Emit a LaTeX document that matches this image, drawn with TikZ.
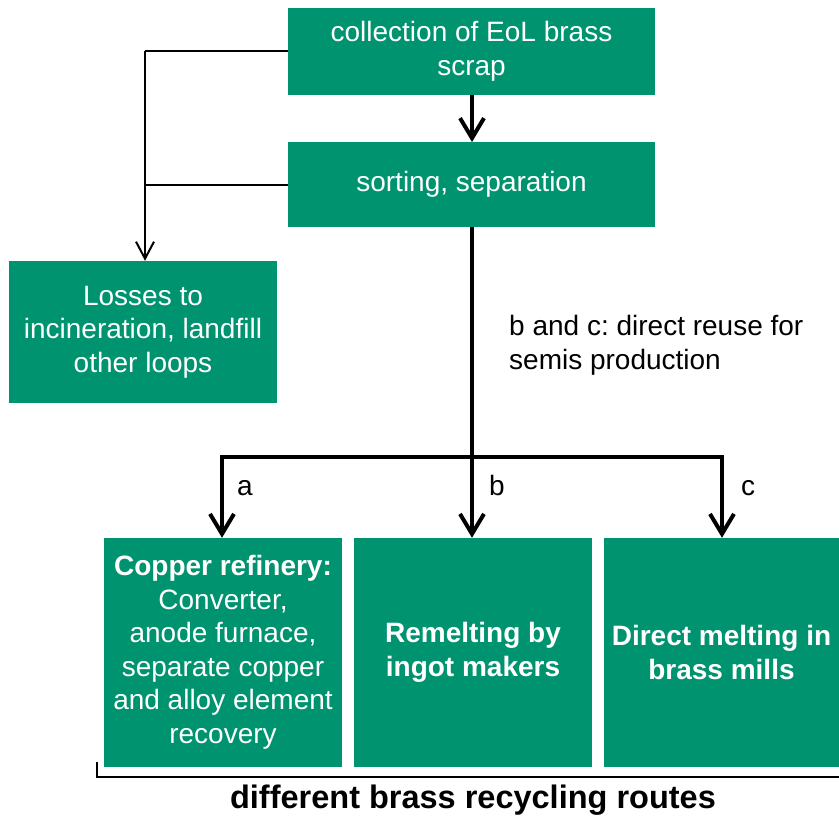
\documentclass[tikz,border=0pt]{standalone}
\usepackage{fontspec}
\setmainfont{Liberation Sans}
\usetikzlibrary{arrows.meta}
\definecolor{boxgreen}{RGB}{0,147,111}
\frenchspacing
\begin{document}
\begin{tikzpicture}[x=1pt,y=-1pt,
  box/.style={fill=boxgreen, text=white, inner sep=0pt, align=center,
    font=\fontsize{28}{33.5}\selectfont},
  lbl/.style={inner sep=0pt, font=\fontsize{28}{34}\selectfont},
  thickarrow/.style={line width=4pt, -{Straight Barb[length=20pt,width=24pt]}},
  thickline/.style={line width=4pt},
  thinarrow/.style={line width=2pt, -{Straight Barb[length=17pt,width=18pt]}},
  thinline/.style={line width=2pt}]
\useasboundingbox (0,0) rectangle (839,817);
\node[box, minimum width=367pt, minimum height=87pt] (collect) at (471.5,51.5)
  {collection of EoL brass\\scrap};
\node[box, minimum width=367pt, minimum height=85pt] (sort) at (471.5,184.5)
  {sorting, separation};
\node[box, minimum width=268pt, minimum height=142pt] (loss) at (143,332)
  {Losses to\\incineration, landfill\\other loops};
\node[box, minimum width=238pt, minimum height=229pt] (ra) at (223,652.5)
  {\textbf{Copper refinery:}\\Converter,\\anode furnace,\\separate copper\\and alloy element\\recovery};
\node[box, minimum width=238pt, minimum height=229pt] (rb) at (473,652.5)
  {\textbf{Remelting by}\\\textbf{ingot makers}};
\node[box, minimum width=235pt, minimum height=229pt] (rc) at (721.5,652.5)
  {\textbf{Direct melting in}\\\textbf{brass mills}};

\coordinate (j) at (145,51);
\coordinate (hub) at (472,457);
\coordinate (ha) at (222,457);
\coordinate (hc) at (722,457);

\draw[thickarrow] (472,95) -- (472,142);
\draw[thickline] (sort.south -| hub) -- (hub);
\draw[thickline, line cap=rect] (ha) -- (hc);
\draw[thickarrow] (ha) -- (ha |- ra.north);
\draw[thickarrow] (hub) -- (hub |- rb.north);
\draw[thickarrow] (hc) -- (hc |- rc.north);

\draw[thinline] (collect.west |- j) -- (j);
\draw[thinline] (sort.west) -- (sort.west -| j);
\draw[thinarrow] (j) -- (j |- loss.north);

\node[lbl, anchor=west, align=left] (reuse) at (509,345.5)
  {b and c: direct reuse for\\semis production};
\node[lbl, anchor=base] (la) at (245,495) {a};
\node[lbl, anchor=base] (lb) at (497,495) {b};
\node[lbl, anchor=base] (lc) at (748,495) {c};

\coordinate (bl) at (97,762);
\coordinate (br) at (839,777);
\draw[thinline] (bl) -- (bl |- br) -- (br);
\node[inner sep=0pt, font=\fontsize{32.5}{36}\selectfont\bfseries] (routes) at (473,800)
  {different brass recycling routes};
\end{tikzpicture}
\end{document}
